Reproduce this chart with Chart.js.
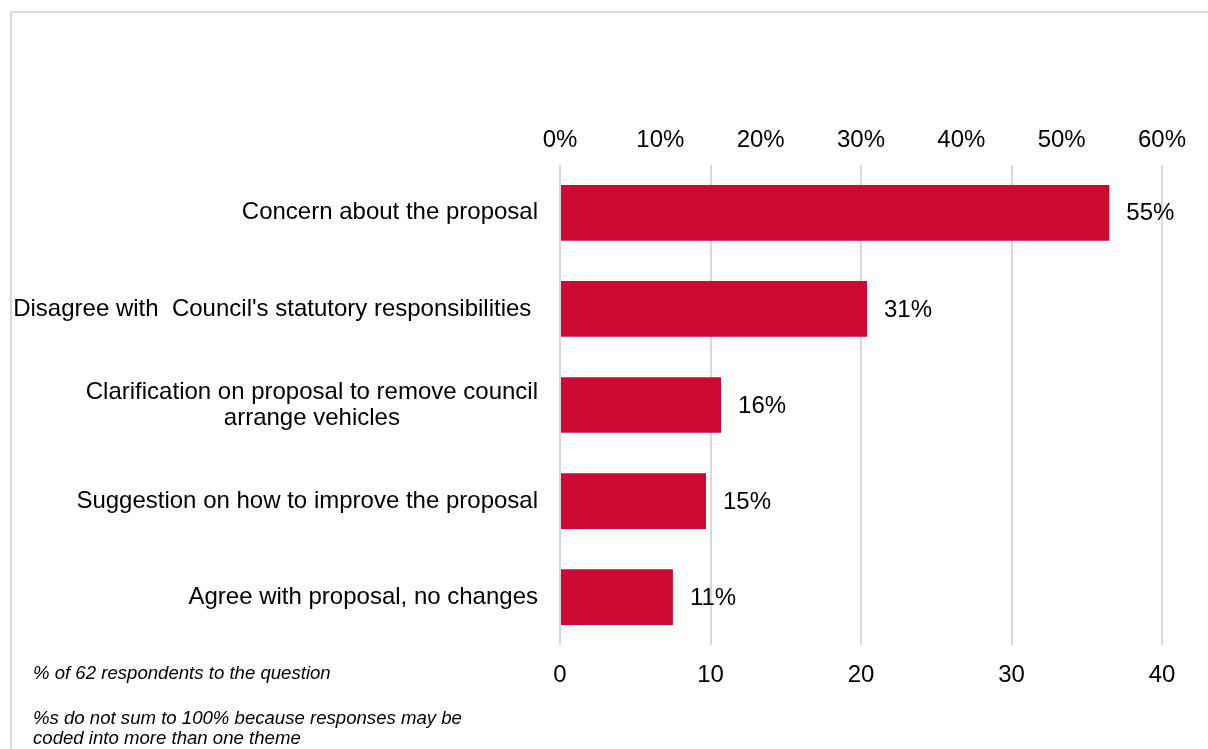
<!DOCTYPE html>
<html>
<head>
<meta charset="utf-8">
<script src="https://cdn.jsdelivr.net/npm/chart.js@4"></script>
<style>
  body { margin: 0; background: #fff; overflow: hidden; }
  #wrap { position: relative; width: 1208px; height: 749px; }
  .note {
    position: absolute; left: 33px;
    font-family: "Liberation Sans", Arial, sans-serif;
    font-size: 18.6px; font-style: italic; line-height: 20px; color: #000;
  }
</style>
</head>
<body>
<div id="wrap">
  <canvas id="themeChart"></canvas>
  <div class="note" style="top: 663px;">% of 62 respondents to the question</div>
  <div class="note" style="top: 708px;">%s do not sum to 100% because responses may be<br>coded into more than one theme</div>
</div>
<script>
// categories, one array of lines each
const categories = [
  ["Concern about the proposal"],
  ["Disagree with  Council's statutory responsibilities "],
  ["Clarification on proposal to remove council", "arrange vehicles"],
  ["Suggestion on how to improve the proposal"],
  ["Agree with proposal, no changes"]
];
const counts = [36.5, 20.4, 10.7, 9.7, 7.5];
const percentLabels = ["55%", "31%", "16%", "15%", "11%"];
const countMax = 40;
const percentMax = 60;

const FONT = '"Liberation Sans", Arial, sans-serif';

const frame = {
  id: "frame",
  beforeDraw(chart) {
    const ctx = chart.ctx;
    ctx.save();
    ctx.strokeStyle = "#d9d9d9";
    ctx.lineWidth = 2;
    ctx.strokeRect(11, 12, 1400, 900);
    ctx.restore();
  }
};

const labels = {
  id: "labels",
  afterDraw(chart) {
    const ctx = chart.ctx;
    const y = chart.scales.y;
    const area = chart.chartArea;
    ctx.save();
    ctx.font = "24px " + FONT;
    ctx.fillStyle = "#000";
    ctx.textBaseline = "middle";
    ctx.textAlign = "center";
    categories.forEach((lines, i) => {
      const cy = y.getPixelForValue(i);
      const w = Math.max(...lines.map(l => ctx.measureText(l).width));
      const cx = area.left - 22 - w / 2;
      lines.forEach((l, j) => {
        ctx.fillText(l, cx, cy + (j - (lines.length - 1) / 2) * 26);
      });
    });
    // value labels
    ctx.textAlign = "left";
    chart.getDatasetMeta(0).data.forEach((bar, i) => {
      ctx.fillText(percentLabels[i], bar.x + 17, bar.y + 1);
    });
    ctx.restore();
  }
};

new Chart(document.getElementById("themeChart"), {
  type: "bar",
  data: {
    labels: categories.map(c => c.join(" ")),
    datasets: [{
      data: counts,
      backgroundColor: "#cc0a31",
      borderWidth: 0,
      categoryPercentage: 1,
      barPercentage: 0.58
    }]
  },
  options: {
    indexAxis: "y",
    responsive: true,
    maintainAspectRatio: false,
    animation: false,
    layout: { padding: { left: 560, right: 46, top: 116, bottom: 43 } },
    plugins: { legend: { display: false }, tooltip: { enabled: false } },
    scales: {
      y: { display: false },
      x: {
        position: "bottom",
        min: 0, max: countMax,
        border: { display: false },
        grid: { color: "#d9d9d9", lineWidth: 2, drawTicks: false },
        ticks: { stepSize: 10, padding: 16, color: "#000", font: { family: FONT, size: 24 } }
      },
      x2: {
        position: "top",
        axis: "x",
        min: 0, max: percentMax,
        border: { display: false },
        grid: { display: false, drawTicks: false },
        ticks: {
          stepSize: 10, padding: 10, color: "#000",
          font: { family: FONT, size: 24 },
          callback: v => v + "%"
        }
      }
    }
  },
  plugins: [frame, labels]
});
</script>
</body>
</html>
